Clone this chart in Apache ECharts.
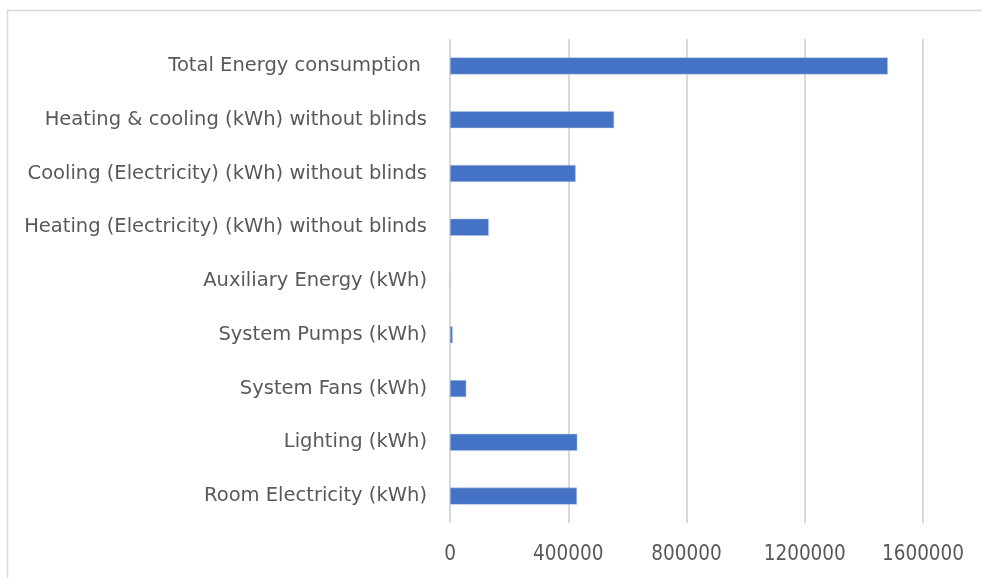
<!DOCTYPE html>
<html>
<head>
<meta charset="utf-8">
<script src="https://cdn.jsdelivr.net/npm/echarts@6/dist/echarts.min.js"></script>
<style>
html,body{margin:0;padding:0;background:#fff;}
#c{width:982px;height:578px;}
</style>
</head>
<body>
<div id="c"></div>
<script>
const categories = [
  "Total Energy consumption ",
  "Heating & cooling (kWh) without blinds",
  "Cooling (Electricity) (kWh) without blinds",
  "Heating (Electricity) (kWh) without blinds",
  "Auxiliary Energy (kWh)",
  "System Pumps (kWh)",
  "System Fans (kWh)",
  "Lighting (kWh)",
  "Room Electricity (kWh)"
];
const values = [1481000, 555000, 425000, 131000, 0, 9000, 55000, 430500, 429500];
const xTicks = [0, 400000, 800000, 1200000, 1600000];

const chart = echarts.init(document.getElementById('c'), null, {renderer: 'canvas'});
chart.setOption({
  animation: false,
  backgroundColor: '#ffffff',
  graphic: [{
    type: 'rect',
    shape: {x: 7.5, y: 10.5, width: 1000, height: 600},
    style: {fill: 'none', stroke: '#d9d9d9', lineWidth: 1.5},
    silent: true
  }],
  grid: {left: 450, right: 59, top: 39, bottom: 55, containLabel: false},
  xAxis: {
    type: 'value',
    min: xTicks[0],
    max: xTicks[xTicks.length - 1],
    interval: xTicks[1] - xTicks[0],
    axisLine: {show: false},
    axisTick: {show: false},
    axisLabel: {
      color: '#595959',
      fontFamily: 'DejaVu Sans Condensed, Liberation Sans, sans-serif',
      fontSize: 20.5,
      margin: 21,
      formatter: function (v) { return String(v); }
    },
    splitLine: {show: true, lineStyle: {color: '#d9d9d9', width: 2}}
  },
  yAxis: {
    type: 'category',
    data: categories,
    inverse: true,
    axisLine: {show: false},
    axisTick: {show: false},
    axisLabel: {
      color: '#595959',
      fontFamily: 'DejaVu Sans, sans-serif',
      fontSize: 19.5,
      margin: 23
    }
  },
  series: [{
    type: 'bar',
    data: values,
    barWidth: 17,
    itemStyle: {color: '#4472c4', borderColor: '#b4c7e7', borderWidth: 0.5}
  }]
});
</script>
</body>
</html>
